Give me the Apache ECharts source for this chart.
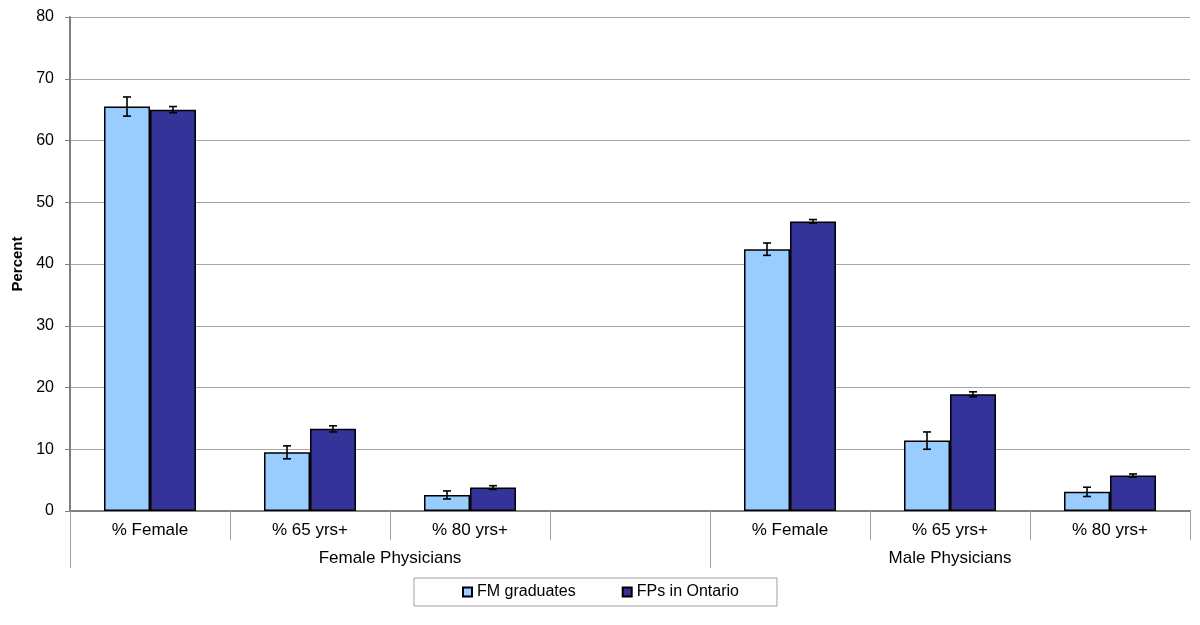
<!DOCTYPE html>
<html>
<head>
<meta charset="utf-8">
<script src="https://cdn.jsdelivr.net/npm/echarts@6/dist/echarts.min.js"></script>
<style>html,body{margin:0;padding:0;background:#fff}#c{width:1200px;height:625px}</style>
</head>
<body>
<div id="c"></div>
<script>
var categories = ['% Female', '% 65 yrs+', '% 80 yrs+', '', '% Female', '% 65 yrs+', '% 80 yrs+'];
var seriesNames = ['FM graduates', 'FPs in Ontario'];
var fmValues = [65.5, 9.5, 2.6, null, 42.4, 11.4, 3.1];
var fmErrors = [1.55, 1.05, 0.65, null, 1.0, 1.4, 0.75];
var fpValues = [65.0, 13.3, 3.8, null, 46.9, 18.9, 5.75];
var fpErrors = [0.5, 0.5, 0.3, null, 0.3, 0.4, 0.25];
var groupLabels = ['Female Physicians', 'Male Physicians'];
var groupStarts = [0, 4];
var groupEnds = [4, 7];
var yTicks = [0, 10, 20, 30, 40, 50, 60, 70, 80];

var FONT = '"Liberation Sans", Arial, sans-serif';
var gapFrac = 0.425;

function errData(vals, errs, s) {
  var out = [];
  for (var i = 0; i < vals.length; i++) {
    if (vals[i] == null) continue;
    out.push([i, vals[i] - errs[i], vals[i] + errs[i], s]);
  }
  return out;
}

var groupCenters = groupStarts.map(function (s, i) { return (s + groupEnds[i]) / 2; });

function renderErr(params, api) {
  var idx = api.value(0), lo = api.value(1), hi = api.value(2), s = api.value(3);
  var band = api.size([1, 0])[0];
  var barW = band * (1 - gapFrac) / 2;
  var off = (s === 0 ? -1 : 1) * barW / 2;
  var x = api.coord([idx, 0])[0] + off;
  var yl = api.coord([idx, lo])[1];
  var yh = api.coord([idx, hi])[1];
  var cap = 4;
  var st = { stroke: '#000', lineWidth: 1.6 };
  return {
    type: 'group',
    children: [
      { type: 'line', shape: { x1: x, y1: yl, x2: x, y2: yh }, style: st },
      { type: 'line', shape: { x1: x - cap, y1: yl, x2: x + cap, y2: yl }, style: st },
      { type: 'line', shape: { x1: x - cap, y1: yh, x2: x + cap, y2: yh }, style: st }
    ]
  };
}

var chart = echarts.init(document.getElementById('c'));
chart.setOption({
  animation: false,
  textStyle: { fontFamily: FONT },
  grid: { left: 70, right: 10, top: 17, bottom: 114, containLabel: false },
  legend: {
    data: seriesNames,
    left: 414,
    top: 578,
    itemWidth: 9,
    itemHeight: 9,
    itemGap: 46,
    icon: 'rect',
    padding: [6, 38, 6, 48],
    borderColor: '#a0a0a0',
    borderWidth: 1,
    textStyle: { fontSize: 16, color: '#000', fontFamily: FONT }
  },
  xAxis: [
    {
      type: 'category',
      data: categories,
      boundaryGap: true,
      axisLine: { lineStyle: { color: '#7f7f7f', width: 2 } },
      axisTick: { show: true, length: 29, interval: 0, lineStyle: { color: '#a0a0a0', width: 1 } },
      axisLabel: { interval: 0, fontSize: 17, color: '#000', margin: 11, fontFamily: FONT },
      splitLine: { show: false }
    },
    {
      type: 'value',
      min: 0,
      max: categories.length,
      position: 'bottom',
      axisLine: { show: false },
      axisTick: { show: true, length: 57, customValues: groupStarts, lineStyle: { color: '#a0a0a0', width: 1 } },
      axisLabel: {
        show: true,
        customValues: groupCenters,
        fontSize: 17,
        color: '#000',
        margin: 39,
        fontFamily: FONT,
        formatter: function (v) {
          for (var i = 0; i < groupCenters.length; i++) {
            if (Math.abs(groupCenters[i] - v) < 1e-6) return groupLabels[i];
          }
          return '';
        }
      },
      splitLine: { show: false }
    }
  ],
  yAxis: {
    type: 'value',
    min: yTicks[0],
    max: yTicks[yTicks.length - 1],
    interval: yTicks[1] - yTicks[0],
    name: 'Percent',
    nameLocation: 'middle',
    nameGap: 45,
    nameRotate: 90,
    nameTextStyle: { fontSize: 15, fontWeight: 'bold', color: '#000', fontFamily: FONT },
    axisLine: { show: true, lineStyle: { color: '#7f7f7f', width: 2 } },
    axisTick: { show: true, length: 5, lineStyle: { color: '#7f7f7f' } },
    axisLabel: { fontSize: 16, color: '#000', margin: 16, fontFamily: FONT },
    splitLine: { show: true, lineStyle: { color: '#a6a6a6', width: 1 } }
  },
  series: [
    {
      name: seriesNames[0],
      type: 'bar',
      data: fmValues,
      barGap: '0%',
      barCategoryGap: (gapFrac * 100) + '%',
      itemStyle: { color: '#99CCFF', borderColor: '#000', borderWidth: 1.5 }
    },
    {
      name: seriesNames[1],
      type: 'bar',
      data: fpValues,
      barGap: '0%',
      barCategoryGap: (gapFrac * 100) + '%',
      itemStyle: { color: '#333399', borderColor: '#000', borderWidth: 1.5 }
    },
    {
      type: 'custom',
      renderItem: renderErr,
      data: errData(fmValues, fmErrors, 0).concat(errData(fpValues, fpErrors, 1)),
      encode: { x: 0, y: [1, 2] },
      z: 10,
      silent: true
    }
  ]
});
</script>
</body>
</html>
